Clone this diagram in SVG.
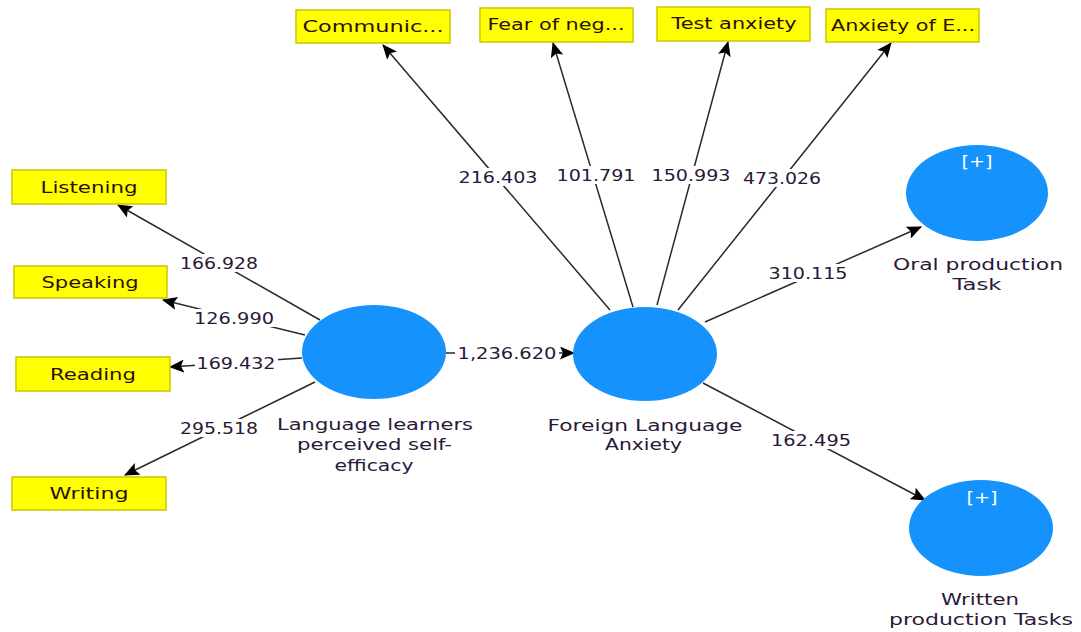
<svg xmlns="http://www.w3.org/2000/svg" width="1081" height="632" viewBox="0 0 1081 632">
<style>
text{font-family:"DejaVu Sans","Liberation Sans",sans-serif;font-size:16px;text-anchor:middle;}
.ind rect{fill:#ffff00;stroke:#c9c700;stroke-width:1.5;}
.ind text{fill:#2a1010;}
.lv ellipse{fill:#1592fb;}
.lv text{fill:#2a1838;}
.lv .plus{fill:#ffffff;}
.conn line{stroke:#2a2a2a;stroke-width:1.5;}
.lbl rect{fill:#fff;}
.lbl text{fill:#2a1838;}
</style>
<defs>
<marker id="ah" markerWidth="15" markerHeight="13" refX="14" refY="6.5" orient="auto" markerUnits="userSpaceOnUse">
<path d="M0,0 L15,6.5 L0,13 L3,6.5 z" fill="#000"/>
</marker>
</defs>
<g class="conn">
<line x1="320" y1="320" x2="118" y2="205" marker-end="url(#ah)"/>
<line x1="305" y1="335" x2="163" y2="300" marker-end="url(#ah)"/>
<line x1="302" y1="358" x2="170" y2="367" marker-end="url(#ah)"/>
<line x1="315" y1="382" x2="125" y2="475" marker-end="url(#ah)"/>
<line x1="446" y1="353" x2="574" y2="353" marker-end="url(#ah)"/>
<line x1="610" y1="310" x2="383" y2="45" marker-end="url(#ah)"/>
<line x1="633" y1="307" x2="553" y2="43" marker-end="url(#ah)"/>
<line x1="657" y1="305" x2="728" y2="42" marker-end="url(#ah)"/>
<line x1="678" y1="310" x2="891" y2="43" marker-end="url(#ah)"/>
<line x1="705" y1="322" x2="921" y2="227" marker-end="url(#ah)"/>
<line x1="703" y1="383" x2="925" y2="500" marker-end="url(#ah)"/>
</g>
<g class="lbl">
<rect x="178" y="254" width="82" height="18"/><text x="219" y="269" textLength="78" lengthAdjust="spacingAndGlyphs">166.928</text>
<rect x="192" y="309" width="84" height="18"/><text x="234" y="324" textLength="80" lengthAdjust="spacingAndGlyphs">126.990</text>
<rect x="195" y="354" width="83" height="18"/><text x="236" y="369" textLength="79" lengthAdjust="spacingAndGlyphs">169.432</text>
<rect x="178" y="419" width="82" height="18"/><text x="219" y="434" textLength="78" lengthAdjust="spacingAndGlyphs">295.518</text>
<rect x="455" y="344" width="104" height="18"/><text x="507" y="359" textLength="99" lengthAdjust="spacingAndGlyphs">1,236.620</text>
<rect x="456" y="168" width="84" height="18"/><text x="498" y="183" textLength="79" lengthAdjust="spacingAndGlyphs">216.403</text>
<rect x="554" y="166" width="84" height="18"/><text x="596" y="181" textLength="79" lengthAdjust="spacingAndGlyphs">101.791</text>
<rect x="649" y="166" width="84" height="18"/><text x="691" y="181" textLength="79" lengthAdjust="spacingAndGlyphs">150.993</text>
<rect x="740" y="169" width="84" height="18"/><text x="782" y="184" textLength="78" lengthAdjust="spacingAndGlyphs">473.026</text>
<rect x="766" y="264" width="84" height="18"/><text x="808" y="279" textLength="79" lengthAdjust="spacingAndGlyphs">310.115</text>
<rect x="769" y="431" width="84" height="18"/><text x="811" y="446" textLength="80" lengthAdjust="spacingAndGlyphs">162.495</text>
</g>
<g id="listening" class="ind"><rect x="12" y="170" width="154" height="34"/><text x="89" y="193" textLength="97" lengthAdjust="spacingAndGlyphs">Listening</text></g>
<g id="speaking" class="ind"><rect x="14" y="266" width="153" height="32"/><text x="90" y="288" textLength="97" lengthAdjust="spacingAndGlyphs">Speaking</text></g>
<g id="reading" class="ind"><rect x="16" y="357" width="154" height="34"/><text x="93" y="380" textLength="86" lengthAdjust="spacingAndGlyphs">Reading</text></g>
<g id="writing" class="ind"><rect x="12" y="477" width="154" height="33"/><text x="89" y="499" textLength="79" lengthAdjust="spacingAndGlyphs">Writing</text></g>
<g id="communic" class="ind"><rect x="296" y="10" width="154" height="33"/><text x="373" y="32" textLength="141" lengthAdjust="spacingAndGlyphs">Communic...</text></g>
<g id="fear" class="ind"><rect x="480" y="8" width="153" height="34"/><text x="556" y="30" textLength="137" lengthAdjust="spacingAndGlyphs">Fear of neg...</text></g>
<g id="test" class="ind"><rect x="657" y="7" width="153" height="34"/><text x="734" y="29" textLength="125" lengthAdjust="spacingAndGlyphs">Test anxiety</text></g>
<g id="anxietyE" class="ind"><rect x="826" y="9" width="153" height="33"/><text x="903" y="31" textLength="144" lengthAdjust="spacingAndGlyphs">Anxiety of E...</text></g>
<g id="llpse" class="lv">
<ellipse cx="374" cy="352" rx="72" ry="47"/>
<text x="375" y="430" textLength="196" lengthAdjust="spacingAndGlyphs">Language learners</text>
<text x="374.5" y="450" textLength="155" lengthAdjust="spacingAndGlyphs">perceived self-</text>
<text x="374" y="471" textLength="79" lengthAdjust="spacingAndGlyphs">efficacy</text>
</g>
<g id="fla" class="lv">
<ellipse cx="645" cy="354" rx="72" ry="47"/>
<text x="645" y="431" textLength="195" lengthAdjust="spacingAndGlyphs">Foreign Language</text>
<text x="643.5" y="450" textLength="77" lengthAdjust="spacingAndGlyphs">Anxiety</text>
</g>
<g id="oral" class="lv">
<ellipse cx="977" cy="193" rx="71" ry="48"/>
<text class="plus" x="977" y="167" textLength="31" lengthAdjust="spacingAndGlyphs">[+]</text>
<text x="978" y="270" textLength="170" lengthAdjust="spacingAndGlyphs">Oral production</text>
<text x="977" y="290" textLength="49" lengthAdjust="spacingAndGlyphs">Task</text>
</g>
<g id="written" class="lv">
<ellipse cx="981" cy="528" rx="72" ry="48"/>
<text class="plus" x="982" y="503" textLength="31" lengthAdjust="spacingAndGlyphs">[+]</text>
<text x="980" y="605" textLength="78" lengthAdjust="spacingAndGlyphs">Written</text>
<text x="981" y="625" textLength="184" lengthAdjust="spacingAndGlyphs">production Tasks</text>
</g>
</svg>
